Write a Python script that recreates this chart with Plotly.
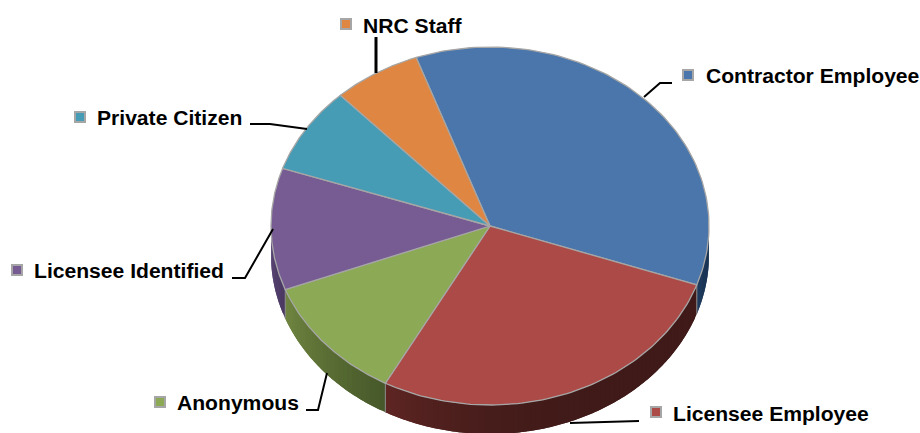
import numpy as np
import plotly.graph_objects as go

# Clockwise from the Contractor Employee slice
categories = ["Contractor Employee", "Licensee Employee", "Anonymous",
              "Licensee Identified", "Private Citizen", "NRC Staff"]
shares = [35.8, 27.6, 11.3, 11.0, 7.8, 6.5]
top_colors = ["#4A76AB", "#AC4A47", "#8CA955", "#775C93", "#469BB5", "#DF8742"]
side_light = ["#1E3A5C", "#5E2523", "#6F8540", "#5D4778", "#357A90", "#B06A30"]
side_dark = ["#16304F", "#3F1A18", "#47592A", "#4A3862", "#2B6577", "#8E5526"]
side_curve = [1, 4, 1, 1, 1, 1]

# Pie geometry in pixels
CX, CY, RX, RY, DEPTH = 490, 226, 219, 179, 29
START_DEG = -19.7
EDGE = "#A6A6A6"

# Legend key, text anchor and leader polyline for every label
label_pos = {
    "Contractor Employee": dict(key=(688, 75), text=(706, 75), width=2,
                                line=[(644, 97), (660, 83), (672, 83)]),
    "Licensee Employee": dict(key=(656, 412), text=(673, 413), width=2,
                              line=[(570, 423), (639, 421)]),
    "Anonymous": dict(key=(160, 402), text=(177, 402), width=2,
                      line=[(327, 373), (318, 410), (306, 410)]),
    "Licensee Identified": dict(key=(17, 270), text=(34, 270), width=2,
                                line=[(273, 229), (245, 278), (232, 278)]),
    "Private Citizen": dict(key=(80, 117), text=(97, 117), width=2,
                            line=[(250, 124), (270, 124), (307, 129)]),
    "NRC Staff": dict(key=(346, 24), text=(363, 25), width=3,
                      line=[(376, 37), (376, 73)]),
}


def rim(deg):
    t = np.radians(deg)
    return CX + RX * np.sin(t), CY - RY * np.cos(t)


def mix(a, b, f):
    ca = [int(a[i:i + 2], 16) for i in (1, 3, 5)]
    cb = [int(b[i:i + 2], 16) for i in (1, 3, 5)]
    return "rgb(%d,%d,%d)" % tuple(round(x + (y - x) * f) for x, y in zip(ca, cb))


fig = go.Figure()
edges = np.cumsum([0] + shares) / sum(shares) * 360 + START_DEG

# Side wall: only the front half of the rim is visible
for i, name in enumerate(categories):
    a0, a1 = max(edges[i], 90), min(edges[i + 1], 270)
    if a1 <= a0:
        continue
    n = max(2, int((a1 - a0) / 1.5))
    steps = np.linspace(a0, a1, n + 1)
    for j in range(n):
        # each strip overlaps the next so no seams show
        end = steps[min(j + 2, n)]
        xa, ya = rim(np.linspace(steps[j], end, 5))
        xs = list(xa) + list(xa[::-1])
        ys = list(ya) + list((ya + DEPTH)[::-1])
        col = mix(side_light[i], side_dark[i], 1 - (j / max(n - 1, 1)) ** side_curve[i])
        fig.add_trace(go.Scatter(x=xs + xs[:1], y=ys + ys[:1], mode="none",
                                 fill="toself", fillcolor=col,
                                 hoverinfo="skip", showlegend=False))

# Pale ribs at the slice edges
for a in edges:
    if 90 <= a <= 270:
        xr, yr = rim(a)
        fig.add_trace(go.Scatter(x=[xr, xr], y=[yr, yr + DEPTH], mode="lines",
                                 line=dict(color="#8C8C8C", width=1),
                                 hoverinfo="skip", showlegend=False))

# Top face
for i, name in enumerate(categories):
    xa, ya = rim(np.linspace(edges[i], edges[i + 1], 90))
    fig.add_trace(go.Scatter(x=[CX] + list(xa) + [CX], y=[CY] + list(ya) + [CY],
                             mode="lines", fill="toself", fillcolor=top_colors[i],
                             line=dict(color=EDGE, width=1.3),
                             name=name, text=f"{name}: {shares[i]}%",
                             hoverinfo="text", showlegend=False))

# Labels, keys and leaders
for i, name in enumerate(categories):
    p = label_pos[name]
    fig.add_trace(go.Scatter(x=[q[0] for q in p["line"]], y=[q[1] for q in p["line"]],
                             mode="lines", line=dict(color="black", width=p["width"]),
                             hoverinfo="skip", showlegend=False))
    fig.add_trace(go.Scatter(x=[p["key"][0]], y=[p["key"][1]], mode="markers",
                             marker=dict(symbol="square", size=10, color=top_colors[i],
                                         line=dict(color=EDGE, width=2)),
                             hoverinfo="skip", showlegend=False))
    fig.add_annotation(x=p["text"][0], y=p["text"][1], text=f"<b>{name}</b>",
                       xanchor="left", yanchor="middle", showarrow=False,
                       borderpad=0, borderwidth=0,
                       font=dict(family="Liberation Sans", size=21.1, color="black"))

fig.update_layout(width=920, height=433, margin=dict(l=0, r=0, t=0, b=0),
                  paper_bgcolor="white", plot_bgcolor="white",
                  xaxis=dict(range=[0, 920], visible=False, fixedrange=True),
                  yaxis=dict(range=[433, 0], visible=False, fixedrange=True))
fig.write_html("out.html", config=dict(displayModeBar=False),
               post_script="document.body.style.margin='0';document.body.style.overflow='hidden';")
